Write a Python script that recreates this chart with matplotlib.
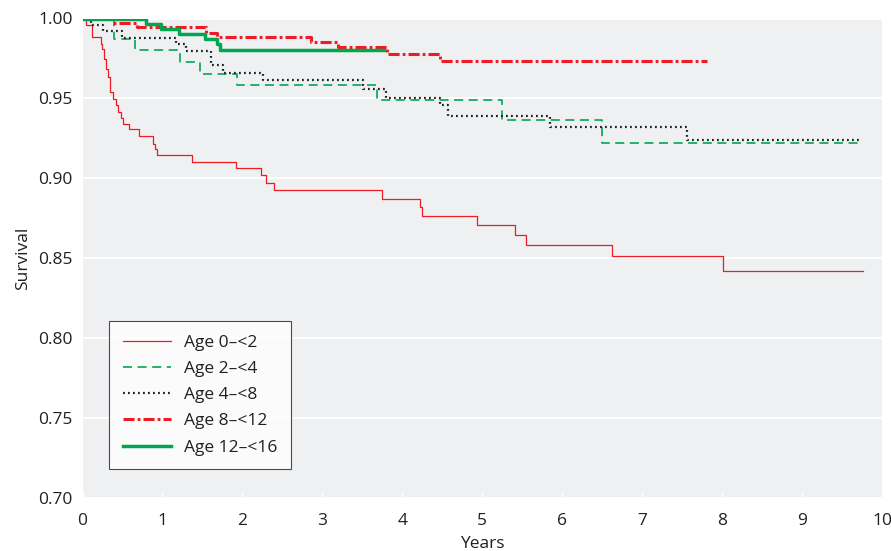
import matplotlib
matplotlib.use("Agg")
import matplotlib.pyplot as plt

plt.rcParams['font.family'] = ['Open Sans', 'DejaVu Sans']
plt.rcParams['lines.scale_dashes'] = False

# Age 0-<2
t_0_2 = [0, 0.044, 0.115, 0.227, 0.24, 0.27, 0.294, 0.323, 0.344, 0.386, 0.419, 0.448, 0.477,
         0.511, 0.586, 0.711, 0.886, 0.907, 0.936, 1.365, 1.916, 2.229, 2.291, 2.395, 3.75,
         4.221, 4.25, 4.93, 5.41, 5.543, 6.619, 8.008, 9.758]
s_0_2 = [1.0, 0.9957, 0.9884, 0.9842, 0.9809, 0.9748, 0.9685, 0.9633, 0.9539, 0.9495, 0.9457,
         0.9413, 0.9376, 0.934, 0.9305, 0.9263, 0.9215, 0.9183, 0.9142, 0.9104, 0.9064, 0.9018,
         0.8972, 0.8924, 0.8872, 0.882, 0.8765, 0.8707, 0.8646, 0.8583, 0.851, 0.8416, 0.8416]

# Age 2-<4
t_2_4 = [0, 0.39, 0.657, 1.22, 1.47, 1.928, 3.68, 5.25, 6.494, 9.725]
s_2_4 = [1.0, 0.9873, 0.980, 0.9727, 0.9654, 0.9583, 0.9487, 0.9363, 0.9223, 0.9223]

# Age 4-<8
t_4_8 = [0, 0.106, 0.252, 0.49, 1.17, 1.295, 1.603, 1.76, 2.262, 3.51, 3.79, 4.47, 4.57,
         5.85, 7.557, 9.725]
s_4_8 = [1.0, 0.9957, 0.992, 0.9878, 0.9842, 0.9796, 0.9706, 0.9658, 0.9612, 0.956, 0.9505,
         0.9457, 0.9388, 0.9321, 0.9238, 0.9238]

# Age 8-<12
t_8_12 = [0, 0.386, 0.686, 1.55, 1.68, 2.86, 3.19, 3.805, 4.47, 7.807]
s_8_12 = [1.0, 0.997, 0.9949, 0.991, 0.9887, 0.9853, 0.9821, 0.9779, 0.9733, 0.9733]

# Age 12-<16
t_12_16 = [0, 0.80, 0.98, 1.207, 1.532, 1.686, 1.72, 3.77]
s_12_16 = [1.0, 0.9967, 0.9935, 0.9905, 0.9873, 0.9838, 0.9805, 0.9805]

labels = ["Age 0\u2013<2", "Age 2\u2013<4", "Age 4\u2013<8", "Age 8\u2013<12", "Age 12\u2013<16"]

x_ticks = [0, 1, 2, 3, 4, 5, 6, 7, 8, 9, 10]
y_ticks = [0.70, 0.75, 0.80, 0.85, 0.90, 0.95, 1.00]

RED = '#ed1c24'
GREEN = '#00a650'
TXT = '#231f20'
FS = 12.5

fig = plt.figure(figsize=(8.91, 5.51), dpi=100)
ax = fig.add_axes([82.5 / 891, 1 - 497.5 / 551, (882 - 82.5) / 891, (497.5 - 18.5) / 551])
ax.set_facecolor('#eff0f2')

ax.step(t_0_2, s_0_2, where='post', color=RED, lw=0.9, label=labels[0])
ax.step(t_2_4, s_2_4, where='post', color=GREEN, lw=1.2, dashes=(6.5, 4), label=labels[1])
ax.step(t_4_8, s_4_8, where='post', color='#222222', lw=1.6, dashes=(1.3, 2.3), label=labels[2])
ax.step(t_8_12, s_8_12, where='post', color=RED, lw=2.2, dashes=(8, 2.2, 2, 2.2), label=labels[3])
ax.step(t_12_16, s_12_16, where='post', color=GREEN, lw=2.5, label=labels[4])

ax.set_xlim(0, 10)
ax.set_ylim(0.70, 1.00)
ax.set_xticks(x_ticks)
ax.set_yticks(y_ticks)
ax.set_xticklabels([str(v) for v in x_ticks])
ax.set_yticklabels([f"{v:.2f}" for v in y_ticks])
for sp in ax.spines.values():
    sp.set_visible(False)
ax.yaxis.grid(True, color='white', lw=1.3)
ax.set_axisbelow(True)
ax.tick_params(axis='x', direction='in', length=5, width=1, color='white', pad=11,
               labelsize=FS, labelcolor=TXT)
ax.tick_params(axis='y', length=0, pad=7, labelsize=FS, labelcolor=TXT)
ax.set_xlabel("Years", fontsize=FS, color=TXT, labelpad=5)
ax.set_ylabel("Survival", fontsize=FS, color=TXT, labelpad=5)

leg = ax.legend(loc='lower left', bbox_to_anchor=(0.033, 0.0585), borderaxespad=0,
                fontsize=FS, frameon=True, fancybox=False, edgecolor=TXT,
                handlelength=2.8, handletextpad=0.7, labelspacing=0.58,
                borderpad=0.8)
leg.get_frame().set_linewidth(0.8)
for t in leg.get_texts():
    t.set_color(TXT)

fig.savefig('out.png', dpi=100, facecolor='white')
